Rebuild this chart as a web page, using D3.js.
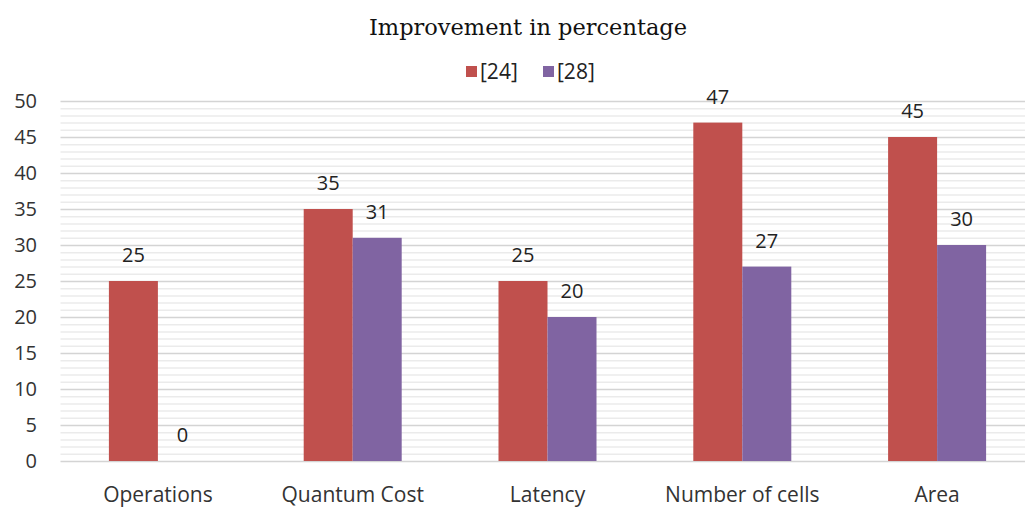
<!DOCTYPE html>
<html>
<head>
<meta charset="utf-8">
<script src="https://cdn.jsdelivr.net/npm/d3@7"></script>
<style>
  body { margin: 0; background: #fff; }
  svg { display: block; }
</style>
</head>
<body>
<svg></svg>
<script>
var categories = ["Operations", "Quantum Cost", "Latency", "Number of cells", "Area"];
var seriesNames = ["[24]", "[28]"];
var values24 = [25, 35, 25, 47, 45];
var values28 = [0, 31, 20, 27, 30];
var yTicks = [0, 5, 10, 15, 20, 25, 30, 35, 40, 45, 50];
var colors = ["#c0504d", "#8064a2"];

/* svg setting */
var svgWidth = 1025;
var svgHeight = 508;
var margin = {top: 101, left: 60.5, bottom: 47};
var width = 974;           // plot runs past the right edge, as in the picture
var height = svgHeight - margin.top - margin.bottom;
var font = "'Open Sans', sans-serif";

var svg = d3.select("svg")
    .attr("width", svgWidth)
    .attr("height", svgHeight);

var data = categories.map(function(c, i){
  return {cat: c, vals: [values24[i], values28[i]]};
});

var x = d3.scaleBand().domain(categories).range([0, width]);
var xs = d3.scaleBand().domain([0, 1]).range([x.bandwidth()/2 - 49, x.bandwidth()/2 + 49]);
var y = d3.scaleLinear().domain([0, 50]).range([height, 0]);

var g = svg.append("g").attr("transform", translate(margin.left, margin.top));

/* grid: light minor lines every unit, major every 5 */
g.append("g").selectAll("line")
    .data(d3.range(0, 51))
    .enter().append("line")
    .attr("x1", 0).attr("x2", width)
    .attr("y1", function(d){ return y(d) + 0.5; })
    .attr("y2", function(d){ return y(d) + 0.5; })
    .attr("stroke", function(d){ return d % 5 === 0 ? "#d4d4d4" : "#ebebeb"; })
    .attr("stroke-width", 1.5);

/* bars */
var groups = g.selectAll(".cat")
    .data(data)
    .enter().append("g")
    .attr("transform", function(d){ return translate(x(d.cat), 0); });

groups.selectAll("rect")
    .data(function(d){ return d.vals; })
    .enter().append("rect")
    .attr("x", function(d, i){ return xs(i); })
    .attr("width", xs.bandwidth())
    .attr("y", function(d){ return y(d); })
    .attr("height", function(d){ return height - y(d); })
    .attr("fill", function(d, i){ return colors[i]; });

groups.selectAll("text")
    .data(function(d){ return d.vals; })
    .enter().append("text")
    .attr("x", function(d, i){ return xs(i) + xs.bandwidth()/2; })
    .attr("y", function(d){ return y(d) - 19; })
    .attr("text-anchor", "middle")
    .attr("font-family", font)
    .attr("font-size", 20)
    .attr("fill", "#222")
    .text(function(d){ return d; });

/* y axis labels */
svg.append("g").selectAll("text")
    .data(yTicks)
    .enter().append("text")
    .attr("x", 37)
    .attr("y", function(d){ return margin.top + y(d) + 7; })
    .attr("text-anchor", "end")
    .attr("font-family", font)
    .attr("font-size", 20)
    .attr("fill", "#333")
    .text(function(d){ return d; });

/* x axis labels */
svg.append("g").selectAll("text")
    .data(categories)
    .enter().append("text")
    .attr("x", function(d){ return margin.left + x(d) + x.bandwidth()/2; })
    .attr("y", 502)
    .attr("text-anchor", "middle")
    .attr("font-family", font)
    .attr("font-size", 21)
    .attr("fill", "#333")
    .text(function(d){ return d; });

/* title */
svg.append("text")
    .attr("x", 528).attr("y", 35)
    .attr("text-anchor", "middle")
    .attr("font-family", "'DejaVu Serif', serif")
    .attr("font-size", 22.5)
    .attr("fill", "#111")
    .text("Improvement in percentage");

/* legend */
var legendX = [466, 543];
var legend = svg.append("g").selectAll("g")
    .data(seriesNames)
    .enter().append("g")
    .attr("transform", function(d, i){ return translate(legendX[i], 66); });
legend.append("rect")
    .attr("width", 11).attr("height", 11)
    .attr("fill", function(d, i){ return colors[i]; });
legend.append("text")
    .attr("x", 14).attr("y", 13)
    .attr("font-family", font)
    .attr("font-size", 21)
    .attr("fill", "#222")
    .text(function(d){ return d; });

function translate(x, y) {
  return "translate(" + x + "," + y + ")";
}
</script>
</body>
</html>
